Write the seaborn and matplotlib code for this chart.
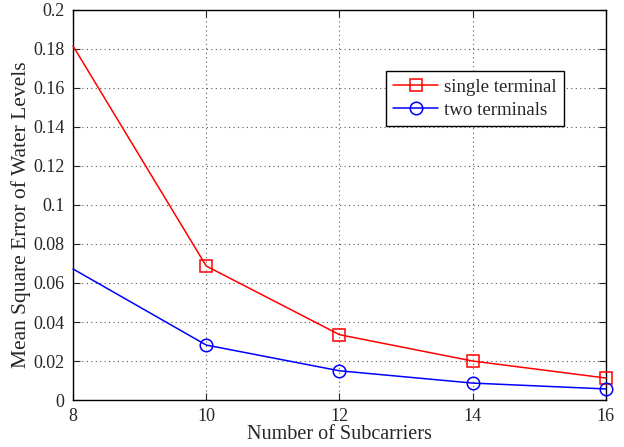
import matplotlib
matplotlib.use('Agg')
import matplotlib.pyplot as plt
import seaborn as sns

# Data
subcarriers = [8, 10, 12, 14, 16]
single_terminal = [0.1815, 0.0687, 0.0335, 0.0200, 0.0113]
two_terminals = [0.0672, 0.0282, 0.0150, 0.0087, 0.0057]

sns.set_style('ticks')
plt.rcParams['font.family'] = ['Liberation Serif', 'DejaVu Serif']

fig = plt.figure(figsize=(6.24, 4.47), dpi=100)
ax = fig.add_axes([0.117, 0.105, 0.854, 0.873])

# Plot both series
sns.lineplot(x=subcarriers, y=single_terminal, ax=ax, color='red', lw=1.1,
             marker='s', markersize=8, markerfacecolor='none', markeredgecolor='red',
             markeredgewidth=1.1, markevery=[1, 2, 3, 4], label='single terminal',
             clip_on=False, zorder=3)
sns.lineplot(x=subcarriers, y=two_terminals, ax=ax, color='blue', lw=1.1,
             marker='o', markersize=9, markerfacecolor='none', markeredgecolor='blue',
             markeredgewidth=1.1, markevery=[1, 2, 3, 4], label='two terminals',
             clip_on=False, zorder=3)

# Axis and grid, MATLAB style
ax.set_xlim(8, 16)
ax.set_ylim(0, 0.2)
ax.set_xticks(subcarriers)
ax.set_yticks([0, 0.02, 0.04, 0.06, 0.08, 0.1, 0.12, 0.14, 0.16, 0.18, 0.2])
ax.set_yticklabels(['0', '0.02', '0.04', '0.06', '0.08', '0.1', '0.12', '0.14', '0.16', '0.18', '0.2'])
ax.grid(True, linestyle=(0, (1, 3)), color='0.35', lw=0.8)
ax.tick_params(direction='in', top=True, right=True, labelsize=13, length=5, width=0.8, pad=6)
for s in ax.spines.values():
    s.set_linewidth(1.0)
    s.set_color('black')

ax.set_xlabel('Number of Subcarriers', fontsize=14.5, labelpad=0)
ax.set_ylabel('Mean Square Error of Water Levels', fontsize=15.5)
ax.yaxis.set_label_coords(-0.078, 0.475)

leg = ax.legend(loc='upper left', bbox_to_anchor=(0.587, 0.843), fontsize=13.6,
                frameon=True, fancybox=False, edgecolor='black', framealpha=1,
                handlelength=2.4, borderpad=0.38, labelspacing=0.32, handletextpad=0.3,
                borderaxespad=0)
leg.get_frame().set_linewidth(1.0)

fig.savefig('out.png', dpi=100)
